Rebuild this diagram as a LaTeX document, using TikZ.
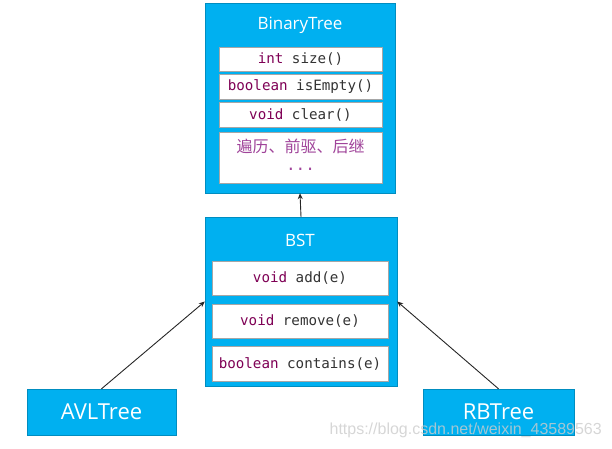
\documentclass[tikz,border=0pt]{standalone}
\usepackage{fontspec}
\setmainfont{Open Sans}
\setmonofont{DejaVu Sans Mono}
\newfontfamily\cjk{Noto Sans CJK SC}
\newfontfamily\wmfont{Liberation Sans}
\usetikzlibrary{arrows.meta}
\definecolor{ppblue}{HTML}{00B0F0}
\definecolor{kw}{HTML}{7F0055}
\definecolor{plain}{HTML}{333333}
\definecolor{cnpurple}{HTML}{A0449A}
\definecolor{innerline}{HTML}{A6A6A6}
\newcommand{\kwd}[1]{\textcolor{kw}{#1}}
\tikzset{
  outerbox/.style={fill=ppblue, draw=ppblue!80!black, line width=0.4pt, inner sep=0pt},
  innerbox/.style={fill=white, draw=innerline, line width=0.6pt, inner sep=0pt, align=center,
    font=\fontsize{14.2}{16}\selectfont\ttfamily, text=plain},
  titletext/.style={text=white, font=\fontsize{17}{20}\selectfont, inner sep=0pt},
  leafbox/.style={fill=ppblue, draw=ppblue!80!black, line width=0.4pt, inner sep=0pt,
    text=white, font=\fontsize{22}{26}\selectfont},
  inherit/.style={draw=black!85, line width=0.9pt, -{Stealth[length=6pt,width=5pt]}},
}
\begin{document}
\begin{tikzpicture}[x=1pt,y=-1pt]
\useasboundingbox (0,0) rectangle (612,448);
% BinaryTree
\node[outerbox, minimum width=190pt, minimum height=190pt] (bt) at (300,98) {};
\node[titletext] (btt) at (300,25) {BinaryTree};
\node[innerbox, minimum width=163pt, minimum height=24pt] (bt1) at (300.5,59) {\kwd{int} size()};
\node[innerbox, minimum width=163pt, minimum height=25pt] (bt2) at (300.5,86.5) {\kwd{boolean} isEmpty()};
\node[innerbox, minimum width=163pt, minimum height=25pt] (bt3) at (300.5,114.5) {\kwd{void} clear()};
\node[innerbox, minimum width=163pt, minimum height=51pt] (bt4) at (300.5,157.5) {};
\node[text=cnpurple, font=\fontsize{16}{18}\selectfont\cjk, inner sep=0pt] (cn) at (300.5,146) {遍历、前驱、后继};
\node[text=cnpurple, font=\fontsize{16}{18}\selectfont\ttfamily, inner sep=0pt] (dots) at (300.5,169) {...};
% BST
\node[outerbox, minimum width=192pt, minimum height=169pt] (bst) at (301,301.5) {};
\node[titletext] (bstt) at (300,240) {BST};
\node[innerbox, minimum width=176pt, minimum height=34pt] (b1) at (300,278) {\kwd{void} add(e)};
\node[innerbox, minimum width=176pt, minimum height=34pt] (b2) at (300,321) {\kwd{void} remove(e)};
\node[innerbox, minimum width=176pt, minimum height=35pt] (b3) at (300,363.5) {\kwd{boolean} contains(e)};
% leaves
\node[leafbox, minimum width=149pt, minimum height=46pt] (avl) at (101.5,412) {AVLTree};
\node[leafbox, minimum width=151pt, minimum height=46pt] (rb) at (498.5,412) {RBTree};
% connectors
\draw[inherit] (bst.north) -- (bt.south);
\draw[inherit] (avl.north) -- (bst.west);
\draw[inherit] (rb.north) -- (bst.east);
% watermark
\node[text=black!20, opacity=0.8, font=\fontsize{16}{18}\selectfont\wmfont, anchor=east, inner sep=0pt] (wm) at (602,430) {https://blog.csdn.net/weixin\_43589563};
\end{tikzpicture}
\end{document}
